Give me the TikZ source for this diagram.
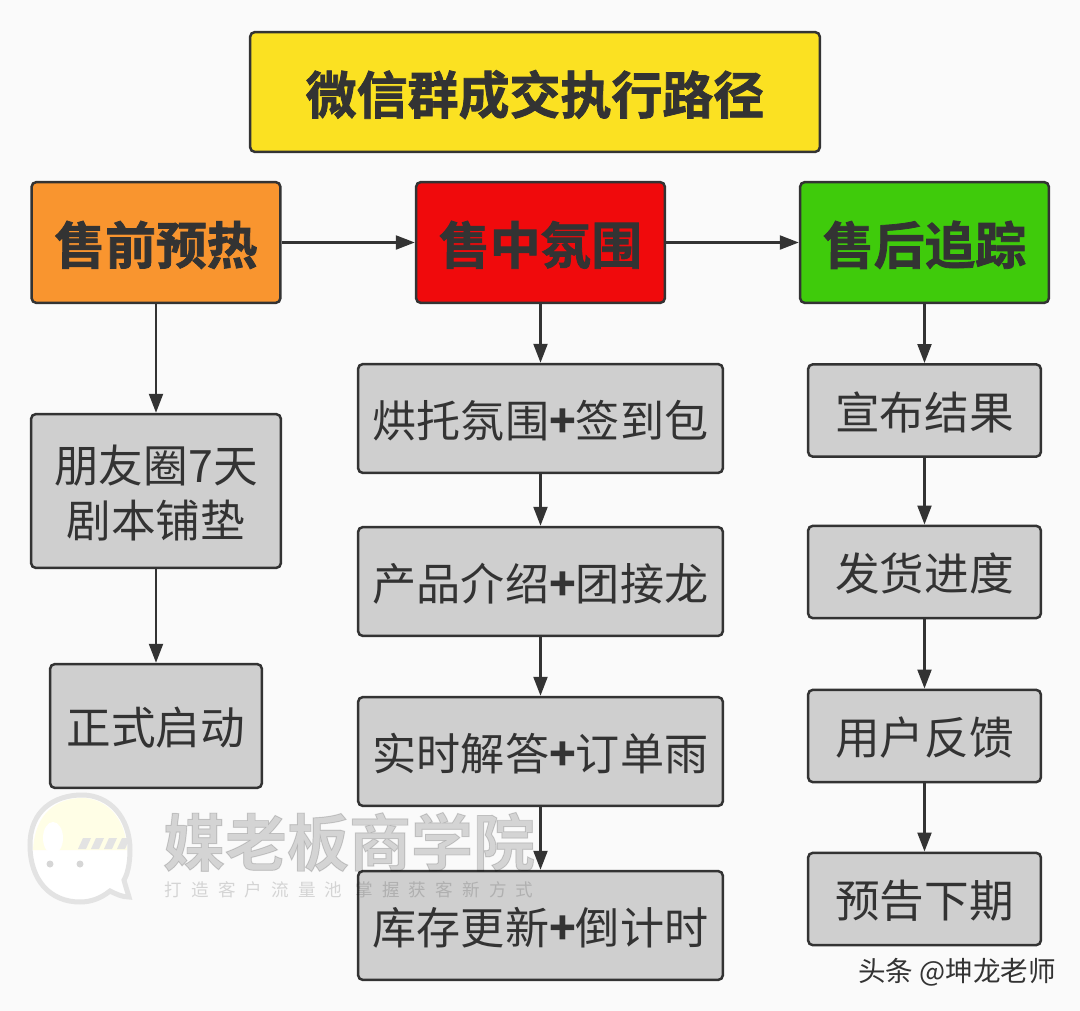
\documentclass[tikz,border=0pt]{standalone}
\usepackage{fontspec}
\setmainfont{Noto Sans CJK SC}
\newfontfamily\heavyfont[FakeBold=1.5]{Noto Sans CJK SC Bold}
\usetikzlibrary{arrows.meta}
\definecolor{inkdark}{HTML}{333333}
\definecolor{paper}{HTML}{FAFAFA}
\definecolor{titleyellow}{HTML}{FBE122}
\definecolor{preorange}{HTML}{F9952F}
\definecolor{midred}{HTML}{F00A0C}
\definecolor{postgreen}{HTML}{3FCB0B}
\definecolor{stepgray}{HTML}{CFCFCF}
\tikzset{
  box/.style={draw=inkdark,line width=0.05cm,rounded corners=0.1cm,text=inkdark,inner sep=0pt,align=center,text depth=0pt},
  headbox/.style={box,font=\heavyfont\fontsize{28.9}{34}\selectfont,minimum width=4.98cm,minimum height=2.42cm},
  stepbox/.style={box,fill=stepgray,font=\fontsize{25.4}{31}\selectfont},
  midbox/.style={stepbox,font=\fontsize{25.1}{31}\selectfont,minimum width=7.3cm,minimum height=2.18cm},
  postbox/.style={stepbox,minimum width=4.66cm,minimum height=1.85cm},
  link/.style={draw=inkdark,line width=0.045cm,-{Triangle[length=0.38cm,width=0.28cm]}},
  mark text/.style={text=black,text opacity=0.15}
}

\begin{document}
\begin{tikzpicture}[x=0.02cm,y=-0.02cm]
    % page
    \fill[paper] (0,0) rectangle (1080,1011);
    \useasboundingbox (0,0) rectangle (1080,1011);
    % title
    \node[box,fill=titleyellow,font=\heavyfont\fontsize{29}{34}\selectfont,minimum width=11.4cm,minimum height=2.4cm] (title) at (535,92) {微信群成交执行路径};
    % column heads
    \node[headbox,fill=preorange] (pre) at (156,242.5) {售前预热};
    \node[headbox,fill=midred] (mid) at (540.5,242.5) {售中氛围};
    \node[headbox,fill=postgreen] (post) at (924.5,242.5) {售后追踪};
    % left column
    \node[stepbox,minimum width=5cm,minimum height=3.08cm] (moments) at (156,491) {朋友圈7天\\剧本铺垫};
    \node[stepbox,minimum width=4.24cm,minimum height=2.48cm] (launch) at (156,726) {正式启动};
    % middle column
    \node[midbox] (mood) at (540.5,418.5) {烘托氛围\textbf{+}签到包};
    \node[midbox] (intro) at (540.5,581.5) {产品介绍\textbf{+}团接龙};
    \node[midbox] (answer) at (540.5,751.5) {实时解答\textbf{+}订单雨};
    \node[midbox] (stock) at (540.5,925.5) {库存更新\textbf{+}倒计时};
    % right column
    \node[postbox] (result) at (924.5,410.5) {宣布结果};
    \node[postbox] (ship) at (924.5,572) {发货进度};
    \node[postbox] (feedback) at (924.5,736) {用户反馈};
    \node[postbox] (next) at (924.5,899) {预告下期};
    % arrows
    \draw[link] (pre) -- (mid);
    \draw[link] (mid) -- (post);
    \draw[link] (pre) -- (moments);
    \draw[link] (moments) -- (launch);
    \draw[link] (mid) -- (mood);
    \draw[link] (mood) -- (intro);
    \draw[link] (intro) -- (answer);
    \draw[link] (answer) -- (stock);
    \draw[link] (post) -- (result);
    \draw[link] (result) -- (ship);
    \draw[link] (ship) -- (feedback);
    \draw[link] (feedback) -- (next);
    % mascot
    \draw[line width=0.1cm,draw=black!11,fill=white] (30,845) .. controls (30,810) and (55,795) .. (82,795) .. controls (110,795) and (130,818) .. (130,850) .. controls (130,865) and (127,875) .. (124,880) .. controls (126,888) and (128,893) .. (129,897) .. controls (122,897) and (116,894) .. (110,891) .. controls (100,899) and (90,902) .. (80,902) .. controls (50,902) and (30,880) .. (30,845) -- cycle;
    \fill[yellow!10] (33,850) .. controls (35,812) and (58,798) .. (82,798) .. controls (106,798) and (126,818) .. (127,850) -- cycle;
    \fill[white] (53,838) ellipse (10 and 16);
    \foreach \i in {0,1,2,3}
      \fill[black!11] (78+\i*13,849) -- (83+\i*13,838) -- (91+\i*13,838) -- (86+\i*13,849) -- cycle;
    \fill[black!16] (50,864) circle (3.5);
    \fill[black!16] (80,864) circle (3.5);
    % watermark
    \node[mark text,font=\heavyfont\fontsize{35.3}{40}\selectfont,inner sep=0pt] (brand) at (349,842) {媒老板商学院};
    \node[mark text,font=\addfontfeature{LetterSpace=52}\fontsize{10}{11}\selectfont,inner sep=0pt] (slogan) at (349,890) {打造客户流量池\ 掌握获客新方式};
    % signature
    \node[text=inkdark,font=\fontsize{15.7}{17}\selectfont,inner sep=0pt] (author) at (957,972) {头条 @坤龙老师};
\end{tikzpicture}
\end{document}
